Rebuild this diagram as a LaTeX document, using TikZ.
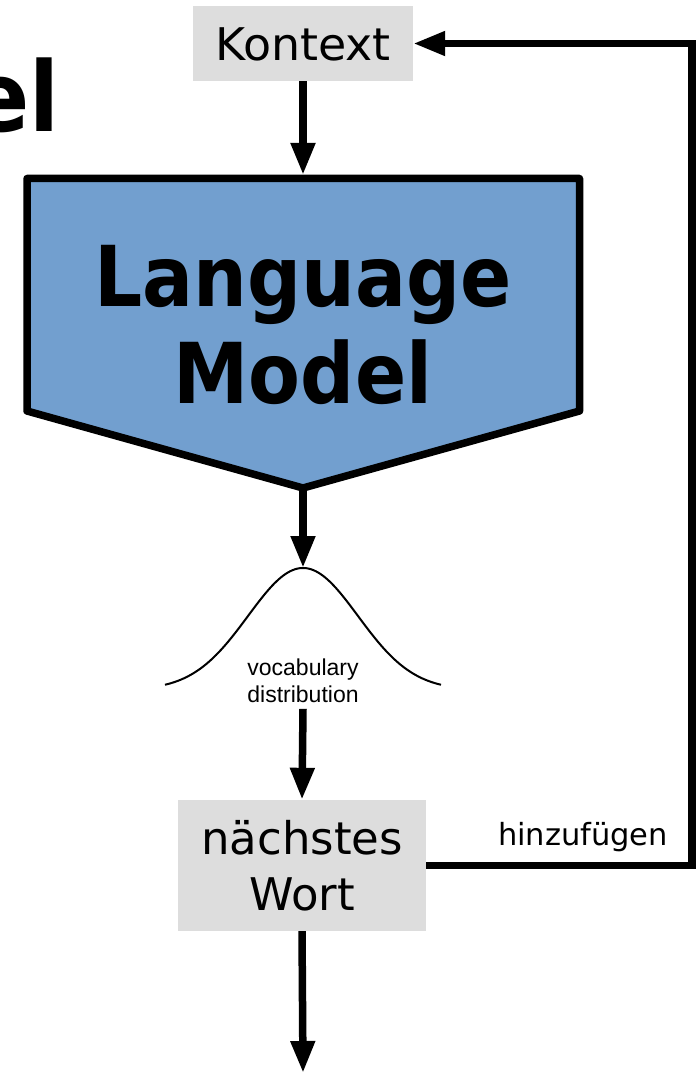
\documentclass[tikz,border=0pt]{standalone}
\usepackage{fontspec}
\setmainfont{DejaVu Sans}
\newfontfamily\arialf{Liberation Sans}
\usetikzlibrary{arrows.meta}
\definecolor{lmblue}{RGB}{114,159,207}
\definecolor{boxgray}{RGB}{221,221,221}
\begin{document}
\begin{tikzpicture}[x=1pt,y=-1pt,
  flow/.style={line width=7.5pt, line join=miter, -{Triangle[length=32pt,width=23pt]}},
  graybox/.style={fill=boxgray, draw=none, inner sep=0pt},
  lmshape/.style={line width=7.5pt, fill=lmblue, draw=black, line join=round},
  bell/.style={line width=2pt},
  plain/.style={inner sep=0pt}
 ]
\useasboundingbox (0,0) rectangle (696,1075);
\clip (0,0) rectangle (696,1075);
% cut-off title
\node[plain, anchor=base east, font=\fontsize{97}{97}\selectfont\bfseries] (title) at (60,132) {\scalebox{0.9}[1]{el}};
% Kontext box
\node[graybox, minimum width=220pt, minimum height=75pt, text height=35pt, text depth=0pt,
      font=\fontsize{45}{48}\selectfont] (kontext) at (303,43.5) {\scalebox{1.02}[1]{Kontext}};
% Language model pentagon
\coordinate (lmtop) at (303,175);
\coordinate (lmtip) at (303,488);
\draw[lmshape] (27,178.5) -- (579.5,178.5) -- (579.5,411) -- (lmtip) -- (27,411) -- cycle;
\node[plain, anchor=north, align=center, font=\fontsize{84}{97}\selectfont\bfseries] (lm) at (303,245)
  {\scalebox{0.9}[1]{Language}\\\scalebox{0.9}[1]{Model}};
% distribution curve
\coordinate (peak) at (303,568);
\draw[bell] plot[domain=-138:138, samples=120, smooth] ({303+\x},{690-122*exp(-0.5*(\x/55)^2)});
\node[plain, anchor=north, align=center, font=\arialf\fontsize{23}{27}\selectfont] (vocab) at (303,658.5)
  {vocabulary\\distribution};
% next word box
\node[graybox, minimum width=248pt, minimum height=131pt, align=center,
      font=\fontsize{45}{56}\selectfont] (wort) at (302,865.5) {nächstes\\Wort};
\coordinate (out) at (303,1073);
\coordinate (fb) at (692,500);
% connectors
\draw[flow] (kontext.south) -- (lmtop);
\draw[flow] (lmtip) -- (peak);
\draw[flow] ([yshift=-6pt]vocab.south) -- (wort.north);
\draw[flow] (wort.south) -- (out);
\draw[flow] (wort.east) -| (fb) |- (kontext.east);
\node[plain, anchor=base, font=\fontsize{30.5}{32}\selectfont] (addlbl) at (583,845) {hinzufügen};
\end{tikzpicture}
\end{document}
